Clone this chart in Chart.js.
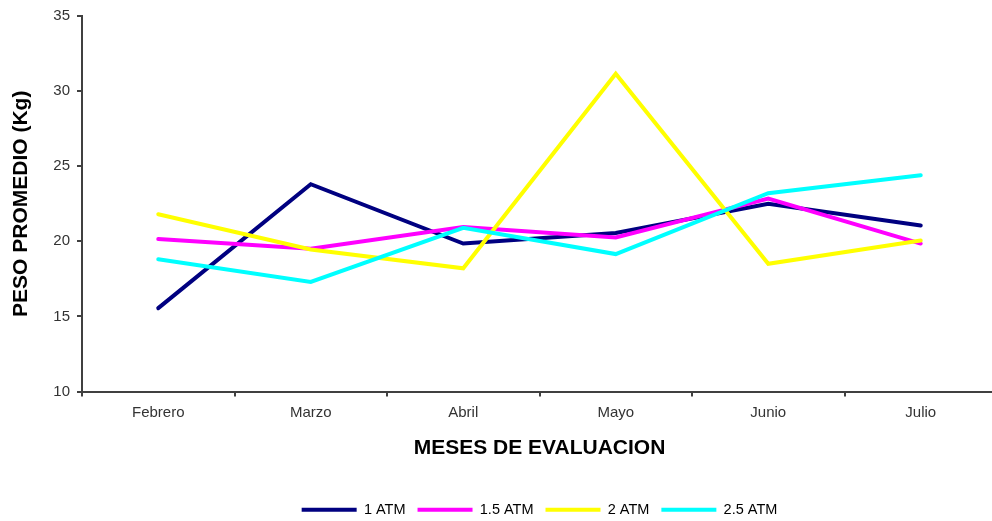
<!DOCTYPE html>
<html lang="es">
<head>
  <meta charset="UTF-8" />
  <title>Peso promedio por mes de evaluación</title>
  <script src="https://cdn.jsdelivr.net/npm/chart.js"></script>
  <style>
    html, body {
      margin: 0;
      padding: 0;
      background: #fff;
      overflow: hidden;
    }
    #wrap {
      width: 1000px;
      height: 527px;
    }
  </style>
</head>
<body>
  <div id="wrap">
    <canvas id="pesoChart" width="1000" height="527"></canvas>
  </div>

  <script>
    // ------------------------------------------
    // Datos
    // ------------------------------------------
    const MESES = ['Febrero', 'Marzo', 'Abril', 'Mayo', 'Junio', 'Julio'];
    const SERIES = ['1 ATM', '1.5 ATM', '2 ATM', '2.5 ATM'];
    const COLORES = ['#000080', '#FF00FF', '#FFFF00', '#00FFFF'];

    const PESO_1_ATM   = [15.55, 23.8, 19.85, 20.55, 22.5, 21.05];
    const PESO_1_5_ATM = [20.15, 19.5, 20.95, 20.25, 22.85, 19.85];
    const PESO_2_ATM   = [21.8, 19.45, 18.2, 31.15, 18.5, 20.05];
    const PESO_2_5_ATM = [18.8, 17.3, 20.9, 19.15, 23.2, 24.4];

    const Y_MIN = 10;
    const Y_MAX = 35;
    const Y_STEP = 5;

    const FONT = 'Liberation Sans, Arial, sans-serif';
    const TICK_COLOR = '#333';
    const AXIS_COLOR = '#404040';

    const valores = [PESO_1_ATM, PESO_1_5_ATM, PESO_2_ATM, PESO_2_5_ATM];

    // la última serie queda encima (order más bajo se dibuja al final)
    const datasets = SERIES.map((nombre, i) => ({
      label: nombre,
      data: valores[i],
      borderColor: COLORES[i],
      backgroundColor: COLORES[i],
      borderWidth: 4,
      borderCapStyle: 'round',
      pointRadius: 0,
      pointHoverRadius: 0,
      tension: 0,
      fill: false,
      order: SERIES.length - i
    }));

    window.addEventListener('DOMContentLoaded', () => {
      const ctx = document.getElementById('pesoChart').getContext('2d');

      new Chart(ctx, {
        type: 'line',
        data: {
          labels: MESES,
          datasets: datasets
        },
        options: {
          responsive: false,
          animation: false,
          layout: {
            padding: { top: 14, right: 3, bottom: 0, left: 0 }
          },
          scales: {
            x: {
              offset: true,
              grid: {
                display: true,
                offset: true,
                drawOnChartArea: false,
                drawTicks: true,
                tickLength: 5,
                color: AXIS_COLOR,
                lineWidth: 2
              },
              border: { display: true, color: AXIS_COLOR, width: 2 },
              ticks: {
                color: TICK_COLOR,
                padding: 7,
                maxRotation: 0,
                font: { family: FONT, size: 15 }
              },
              title: {
                display: true,
                text: 'MESES DE EVALUACION',
                color: '#000',
                padding: { top: 0, bottom: 30 },
                font: { family: FONT, size: 21, weight: 'bold' }
              },
              afterFit: (scale) => { scale.height = 99; }
            },
            y: {
              min: Y_MIN,
              max: Y_MAX,
              grid: {
                display: true,
                drawOnChartArea: false,
                drawTicks: true,
                tickLength: 5,
                color: AXIS_COLOR,
                lineWidth: 2
              },
              border: { display: true, color: AXIS_COLOR, width: 2 },
              ticks: {
                stepSize: Y_STEP,
                color: TICK_COLOR,
                padding: 7,
                font: { family: FONT, size: 15 }
              },
              title: {
                display: true,
                text: 'PESO PROMEDIO (Kg)',
                color: '#000',
                padding: { top: 9, bottom: 0 },
                font: { family: FONT, size: 21, weight: 'bold' }
              },
              afterFit: (scale) => { scale.width = 82; }
            }
          },
          plugins: {
            legend: {
              display: true,
              position: 'bottom',
              fullSize: false,
              labels: {
                boxWidth: 55,
                boxHeight: 0,
                padding: 12,
                color: '#000',
                font: { family: FONT, size: 14.5 },
                sort: (a, b) => a.datasetIndex - b.datasetIndex
              }
            },
            tooltip: { enabled: false }
          }
        }
      });
    });
  </script>
</body>
</html>
